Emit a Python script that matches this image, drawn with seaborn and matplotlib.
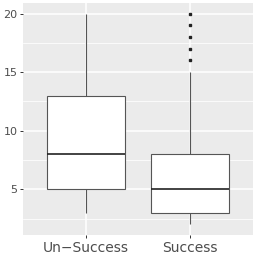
import pandas as pd
import seaborn as sns
import matplotlib.pyplot as plt
from matplotlib.ticker import MultipleLocator

# valores (escolhidos para reproduzir quartis, bigodes e outliers)
un_success = [3, 5, 5, 7, 8, 10, 13, 13, 20]
success = [2, 2, 2, 3, 3, 3, 3, 3, 4, 4, 4, 5, 5,
           5, 6, 6, 7, 7, 8, 15, 16, 17, 18, 19, 20]
categories = ["Un\u2212Success", "Success"]

df = pd.DataFrame({
    "group": [categories[0]] * len(un_success) + [categories[1]] * len(success),
    "value": un_success + success,
})

fig = plt.figure(figsize=(2.56, 2.56), dpi=100)
ax = fig.add_axes([23 / 256, 21 / 256, 230 / 256, 232 / 256])
ax.set_facecolor("#EBEBEB")

sns.boxplot(data=df, x="group", y="value", order=categories, ax=ax,
            width=0.75, color="white", linecolor="#555555", linewidth=0.8,
            showcaps=False,
            medianprops={"linewidth": 1.2, "color": "#222222"},
            flierprops={"marker": "s", "markersize": 2.0,
                        "markerfacecolor": "#222222", "markeredgecolor": "#222222"})

ax.set_xlim(-0.6, 1.6)
ax.set_ylim(1.1, 20.9)
ax.yaxis.set_major_locator(MultipleLocator(5))
ax.yaxis.set_minor_locator(MultipleLocator(2.5))
ax.grid(which="major", color="white", linewidth=1.1)
ax.grid(which="minor", axis="y", color="white", linewidth=0.55)
ax.set_axisbelow(True)
for s in ax.spines.values():
    s.set_visible(False)
ax.tick_params(which="major", length=2.5, width=0.7, color="#333333",
               labelcolor="#4D4D4D", pad=1.5)
ax.tick_params(which="minor", length=0)
ax.tick_params(axis="y", labelsize=8)
ax.tick_params(axis="x", labelsize=10)
ax.set_xlabel("")
ax.set_ylabel("")

plt.savefig("out.png")
plt.close()
